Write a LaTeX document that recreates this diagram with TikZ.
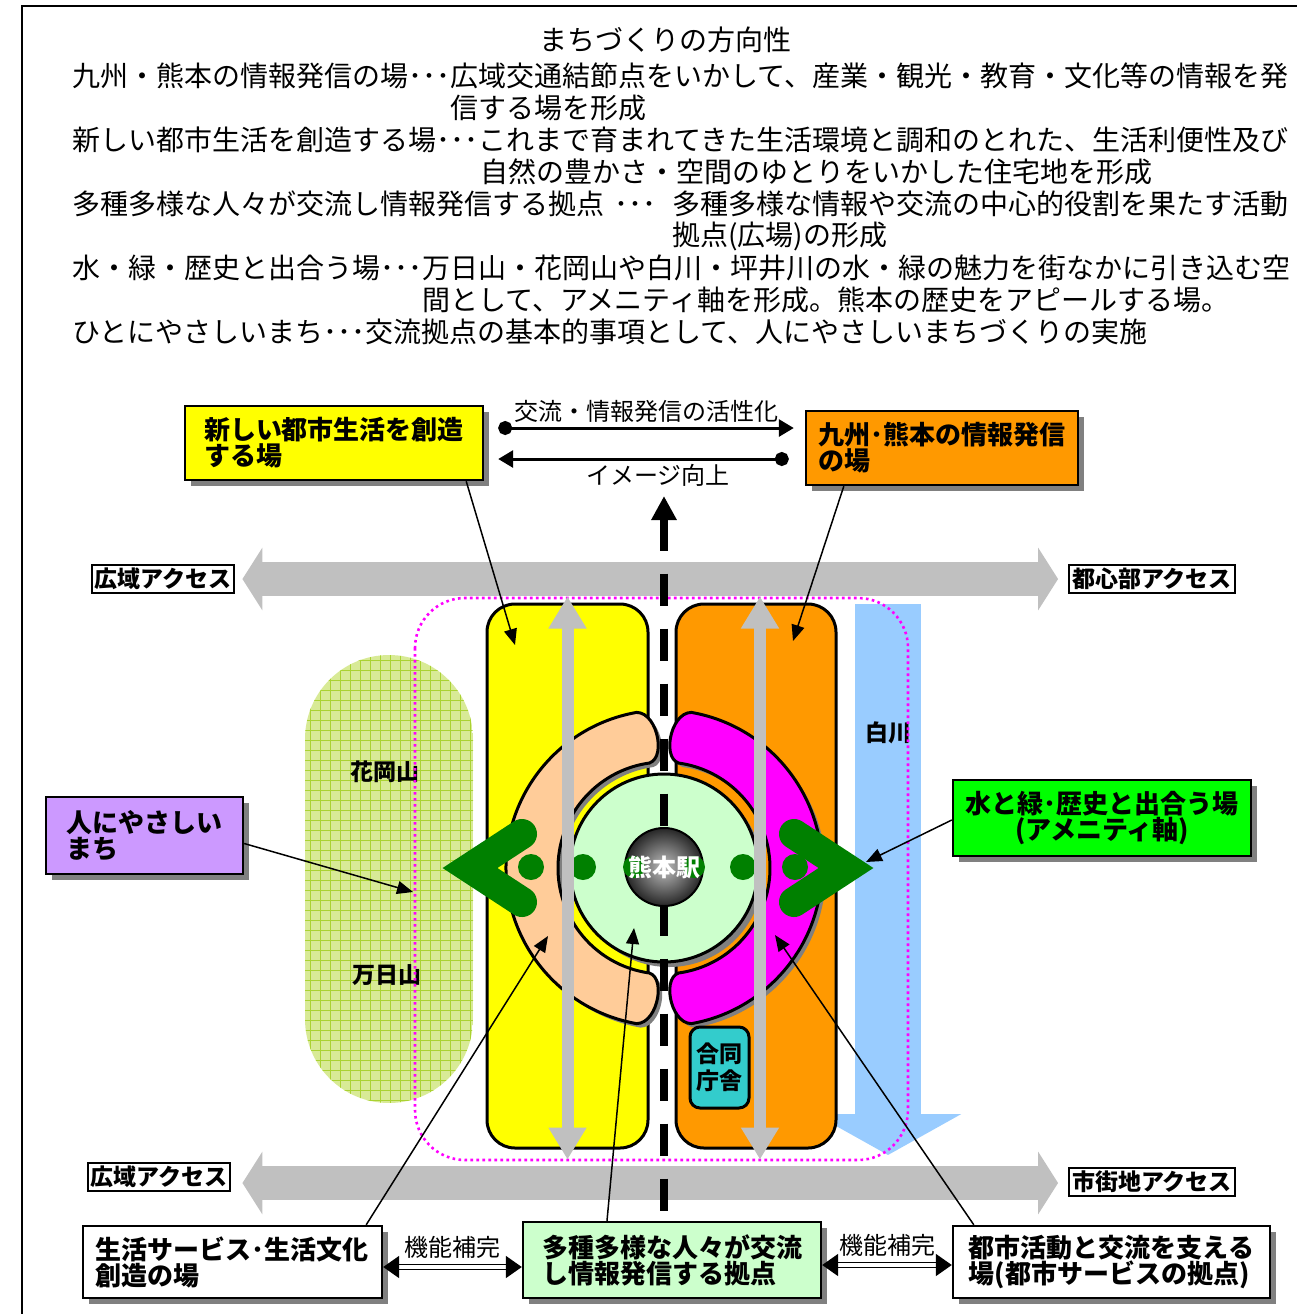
\documentclass[tikz,border=0pt]{standalone}
\usepackage{fontspec}
\setmainfont{Noto Sans CJK JP}
\usepackage{tikz}
\usepackage{xcolor}
\usetikzlibrary{arrows.meta, positioning, calc, shadows}

\definecolor{accessgray}{RGB}{192,192,192}
\definecolor{lifeyellow}{RGB}{255,255,0}
\definecolor{infoorange}{RGB}{255,153,0}
\definecolor{peach}{RGB}{255,204,153}
\definecolor{pinkring}{RGB}{255,0,255}
\definecolor{hubgreen}{RGB}{204,255,204}
\definecolor{riverblue}{RGB}{153,204,255}
\definecolor{kindpurple}{RGB}{204,153,255}
\definecolor{amenitygreen}{RGB}{0,255,0}
\definecolor{chevgreen}{RGB}{0,128,0}
\definecolor{hillfill}{RGB}{216,234,150}
\definecolor{hillgrid}{RGB}{170,210,50}
\definecolor{officeteal}{RGB}{51,204,204}
\definecolor{shadowgray}{RGB}{128,128,128}

\newcommand{\leftring}{(260:158) arc[start angle=260, end angle=100, radius=158] .. controls +(22,0) and +(22,0) .. (100:106) arc[start angle=100, end angle=260, radius=106] .. controls +(22,0) and +(22,0) .. (260:158) -- cycle}
\newcommand{\rightring}{(-80:158) arc[start angle=-80, end angle=80, radius=158] .. controls +(-22,0) and +(-22,0) .. (80:106) arc[start angle=80, end angle=-80, radius=106] .. controls +(-22,0) and +(-22,0) .. (-80:158) -- cycle}

\begin{document}
\begin{tikzpicture}[x=0.5pt, y=-0.5pt,
            bodyline/.style={anchor=west, inner sep=0pt, font=\fontsize{14pt}{16pt}\selectfont},
            placebox/.style={draw, line width=1.2pt, align=left, inner sep=0pt, font=\bfseries\fontsize{13pt}{13pt}\selectfont, drop shadow={shadow xshift=3pt, shadow yshift=-3pt, fill=shadowgray, opacity=1}},
            accesslabel/.style={draw, fill=white, line width=1pt, inner sep=1.5pt, font=\bfseries\fontsize{11.5pt}{12pt}\selectfont},
            zone/.style={draw, line width=1.5pt, rounded corners=14pt, minimum height=272pt},
            spot/.style={inner sep=0pt, font=\bfseries\fontsize{11.5pt}{12pt}\selectfont},
            annot/.style={inner sep=1pt, font=\fontsize{12pt}{12pt}\selectfont},
            access/.style={draw=accessgray, line width=17pt, {Triangle[length=10pt, width=31pt]}-{Triangle[length=10pt, width=31pt]}},
            lane/.style={draw=accessgray, line width=6pt, {Triangle[length=16pt, width=18pt]}-{Triangle[length=16pt, width=18pt]}},
            exchange/.style={line width=1.5pt, {Circle[length=7pt, width=7pt]}-{Triangle[length=7.5pt, width=8.5pt]}},
            leader/.style={line width=0.75pt, -{Triangle[length=8pt, width=6.5pt]}},
            complement/.style={double, double distance=1.6pt, line width=0.9pt, {Triangle[length=8pt, width=11pt]}-{Triangle[length=8pt, width=11pt]}},
            centreline/.style={line width=4pt, dash pattern=on 16pt off 11.5pt, {Triangle[length=12pt, width=12pt]}-},
            chevron/.style={draw=chevgreen, line width=15pt, line cap=round, line join=miter},
            greendot/.style={circle, fill=chevgreen, minimum size=13pt, inner sep=0pt}
        ]
            \useasboundingbox (0,0) rectangle (1297,1314);
            \draw[line width=0.7pt] (22,1330) -- (22,6) -- (1310,6);

% Heading text
            \node[inner sep=0pt, font=\fontsize{14pt}{16pt}\selectfont] (heading) at (665,40) {まちづくりの方向性};
            \node[bodyline] (kyushuLine) at (72,76) {九州・熊本の情報発信の場･･･広域交通結節点をいかして、産業・観光・教育・文化等の情報を発};
            \node[bodyline] (kyushuMore) at (450,108) {信する場を形成};
            \node[bodyline] (lifeLine) at (72,140) {新しい都市生活を創造する場･･･これまで育まれてきた生活環境と調和のとれた、生活利便性及び};
            \node[bodyline] (lifeMore) at (480,172) {自然の豊かさ・空間のゆとりをいかした住宅地を形成};
            \node[bodyline] (hubLine) at (72,204) {多種多様な人々が交流し情報発信する拠点\hspace{5pt}･･･\hspace{8pt}多種多様な情報や交流の中心的役割を果たす活動};
            \node[bodyline] (hubMore) at (672,236) {拠点(広場)の形成};
            \node[bodyline] (amenityLine) at (72,268) {水・緑・歴史と出合う場･･･万日山・花岡山や白川・坪井川の水・緑の魅力を街なかに引き込む空};
            \node[bodyline] (amenityMore) at (422,300) {間として、アメニティ軸を形成。熊本の歴史をアピールする場。};
            \node[bodyline] (kindLine) at (72,332) {ひとにやさしいまち･･･交流拠点の基本的事項として、人にやさしいまちづくりの実施};

% Places
            \node[placebox, fill=lifeyellow, minimum width=149pt, minimum height=37pt] (newlife) at (334,443) {新しい都市生活を創造\\する場};
            \node[placebox, fill=infoorange, minimum width=136pt, minimum height=37pt] (kyushu) at (942,448) {九州･熊本の情報発信\\の場};
            \node[placebox, fill=kindpurple, minimum width=98.5pt, minimum height=38.5pt] (kind) at (144.5,835.5) {人にやさしい\\まち};
            \node[placebox, fill=amenitygreen, minimum width=149pt, minimum height=38pt, align=center] (amenity) at (1102,818) {水と緑･歴史と出合う場\\(アメニティ軸)};
            \node[placebox, fill=white, minimum width=149.5pt, minimum height=36pt] (lifeService) at (232.5,1262) {生活サービス･生活文化\\創造の場};
            \node[placebox, fill=hubgreen, minimum width=149pt, minimum height=38pt] (hubBox) at (672,1260) {多種多様な人々が交流\\し情報発信する拠点};
            \node[placebox, fill=white, minimum width=158.5pt, minimum height=36pt] (urbanBox) at (1111.5,1262) {都市活動と交流を支える\\場(都市サービスの拠点)};

% Exchange between the two places
            \draw[exchange] ($(newlife.east)+(14,-15)$) -- node[above=1pt, annot] (boostLabel) {交流・情報発信の活性化} ($(kyushu.west)+(-11,-20)$);
            \draw[exchange] ($(kyushu.west)+(-16,11)$) -- node[below=1pt, annot, pos=0.45] (imageLabel) {イメージ向上} ($(newlife.east)+(14,16)$);

% Access
            \node[accesslabel] (wideTop) at (163,579) {広域アクセス};
            \node[accesslabel] (centreTop) at (1152,579) {都心部アクセス};
            \node[accesslabel] (wideBottom) at (159,1177) {広域アクセス};
            \node[accesslabel] (streetBottom) at (1152,1182) {市街地アクセス};
            \draw[access] ($(wideTop.east)+(7,0)$) -- ($(centreTop.west)+(-10,0)$);
            \draw[access] ($(wideBottom.east)+(11,6)$) -- ($(streetBottom.west)+(-10,1)$);

% Hills and river
            \begin{scope}
                \clip[rounded corners=42pt] (305,655) rectangle (473,1103);
                \fill[hillfill] (305,655) rectangle (473,1103);
                \draw[hillgrid, line width=0.35pt, xstep=5pt, ystep=5pt] (300,650) grid (480,1110);
            \end{scope}
            \node[spot] (hanaoka) at (385,772) {花岡山};
            \node[spot] (mannichi) at (387,975) {万日山};
            \coordinate (riverTop) at (888,604);
            \coordinate (riverEnd) at (888,1155);
            \draw[draw=riverblue, line width=33pt, -{Triangle[length=20.5pt, width=72.5pt]}] (riverTop) -- (riverEnd);
            \node[spot] (shirakawa) at (888,733) {白川};

% Zones round the station
            \node[zone, fill=lifeyellow, minimum width=80.5pt] (lifeZone) at (567.5,876) {};
            \node[zone, fill=infoorange, minimum width=80pt] (infoZone) at (756,876) {};
            \draw[pinkring, line width=1.3pt, dash pattern=on 1.3pt off 1.7pt, rounded corners=25pt] (415,598) rectangle (908,1160);
            \begin{scope}[shift={(668,872)}]
                \fill[shadowgray] \leftring;
                \fill[shadowgray] \rightring;
            \end{scope}
            \begin{scope}[shift={(664,868)}]
                \filldraw[fill=peach, line width=1.5pt] \leftring;
                \filldraw[fill=pinkring, line width=1.5pt] \rightring;
            \end{scope}
            \node[circle, draw, line width=1.5pt, fill=hubgreen, minimum size=94pt, drop shadow={shadow xshift=2.5pt, shadow yshift=-2.5pt, fill=shadowgray, opacity=1}] (hub) at (664,868) {};

% Centre line
            \coordinate (axisTip) at (664,496);
            \draw[centreline] (axisTip) -- (axisTip |- hubBox.north);

% Station
            \node[circle, draw, line width=1pt, minimum size=39pt, inner sep=0pt, shading=radial, inner color=black!25, outer color=black!85] (station) at (664,867) {};
            \draw[chevron] (522,834) -- (470,868) -- (522,902);
            \draw[chevron] (794,834) -- (846,868) -- (794,902);
            \foreach \x in {531,583,743,795}
                \node[greendot] (dot\x) at (\x,867) {};
            \node[greendot, minimum size=11pt] (dotWest) at (634,867) {};
            \node[greendot, minimum size=11pt] (dotEast) at (694,867) {};
            \node[inner sep=0pt, text=white, font=\bfseries\fontsize{12pt}{12pt}\selectfont] (stationName) at (664,867) {熊本駅};
            \draw[lane] ([yshift=3pt]lifeZone.north) -- ([yshift=-5pt]lifeZone.south);
            \draw[lane] ([xshift=2pt, yshift=3pt]infoZone.north) -- ([xshift=2pt, yshift=-5pt]infoZone.south);
            \node[draw, line width=1.5pt, fill=officeteal, rounded corners=5pt, minimum width=29.5pt, minimum height=40.5pt, inner sep=0pt, align=center, font=\bfseries\fontsize{11.5pt}{13.5pt}\selectfont] (office) at (719.5,1067.5) {合同\\庁舎};

% Arrows
            \coordinate (lifeZoneTip) at (515,645);
            \coordinate (infoZoneTip) at (793,641);
            \coordinate (hillTip) at (413,892);
            \coordinate (chevronTip) at (866,862);
            \coordinate (peachTip) at (548,936);
            \coordinate (hubTip) at (634,928);
            \coordinate (magentaTip) at (775,935);
            \draw[leader] ($(newlife.south east)+(-18,0)$) -- (lifeZoneTip);
            \draw[leader] ($(kyushu.south west)+(39,0)$) -- (infoZoneTip);
            \draw[leader] ($(kind.east)+(0,8)$) -- (hillTip);
            \draw[leader] ($(amenity.west)+(0,2)$) -- (chevronTip);
            \draw[leader] ($(lifeService.north east)+(-17,0)$) -- (peachTip);
            \draw[leader] ($(hubBox.north)+(-65,0)$) -- (hubTip);
            \draw[leader] ($(urbanBox.north west)+(22,0)$) -- (magentaTip);
            \draw[complement] ([yshift=-2.5pt]lifeService.east) -- node[above=3pt, annot] (serviceLink) {機能補完} ([yshift=-2.5pt]lifeService.east -| hubBox.west);
            \draw[complement] ([yshift=-2.5pt]hubBox.east) -- node[above=3pt, annot] (urbanLink) {機能補完} ([yshift=-2.5pt]hubBox.east -| urbanBox.west);

        \end{tikzpicture}
\end{document}
